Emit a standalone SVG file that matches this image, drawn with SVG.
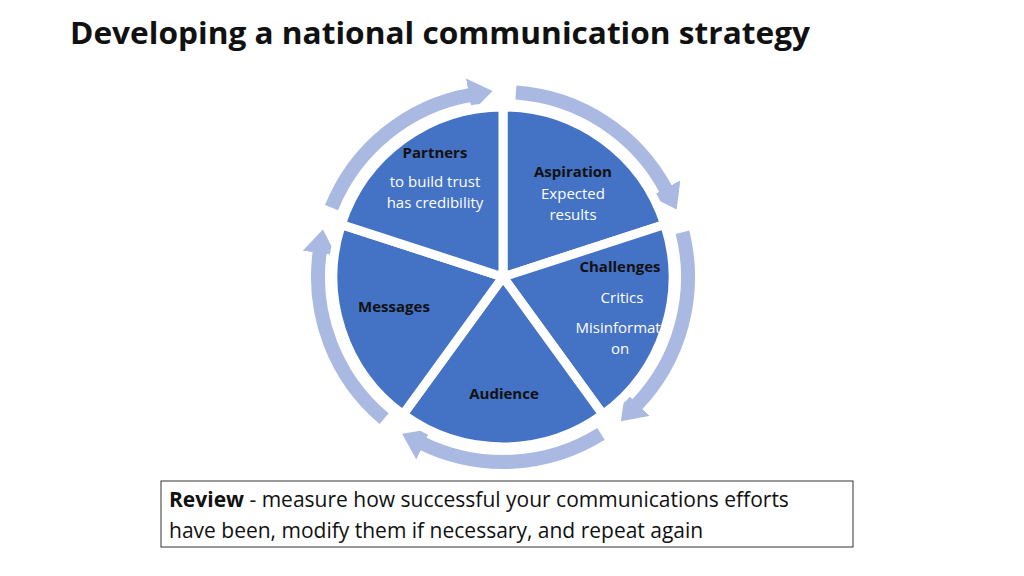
<svg xmlns="http://www.w3.org/2000/svg" width="1024" height="576" viewBox="0 0 1024 576">
<style>
.sec{fill:#4472C4;stroke:#fff;stroke-width:9;stroke-linejoin:miter}
.ring{fill:none;stroke:#A9B9E2;stroke-width:14}
.t{font-family:"Open Sans","Liberation Sans",sans-serif;text-anchor:middle;font-size:15px}
.b{font-weight:bold;fill:#111}
.w{fill:#fff}
</style>
<defs>
<marker id="ah" markerUnits="userSpaceOnUse" markerWidth="24" markerHeight="34" viewBox="0 -17 24 34" refX="2" refY="0" orient="auto">
<path d="M0,-17 L24,0 L0,17 z" fill="#A9B9E2"/>
</marker>
</defs>
<rect width="1024" height="576" fill="#fff"/>
<text x="70" y="44" font-family="'Open Sans','Liberation Sans',sans-serif" font-weight="bold" font-size="31" textLength="740" lengthAdjust="spacingAndGlyphs" fill="#111">Developing a national communication strategy</text>
<g id="connectors">
<path class="ring" marker-end="url(#ah)" d="M515.9,92.5 A185,185 0 0 1 666.3,190.1"/>
<path class="ring" marker-end="url(#ah)" d="M682.5,232.2 A185,185 0 0 1 636.1,405.5"/>
<path class="ring" marker-end="url(#ah)" d="M601.0,433.9 A185,185 0 0 1 421.9,443.3"/>
<path class="ring" marker-end="url(#ah)" d="M384.1,418.7 A185,185 0 0 1 319.8,251.2"/>
<path class="ring" marker-end="url(#ah)" d="M331.5,207.7 A185,185 0 0 1 470.9,94.8"/>
</g>
<g id="aspiration">
<path class="sec" d="M503,277 L503,107 A170,170 0 0 1 664.7,224.5 Z"/>
<text class="t b" x="573" y="177" font-size="17">Aspiration</text>
<text class="t w" x="573" y="199">Expected</text>
<text class="t w" x="573" y="220">results</text>
</g>
<g id="challenges">
<path class="sec" d="M503,277 L664.7,224.5 A170,170 0 0 1 602.9,414.5 Z"/>
<text class="t b" x="620" y="272" font-size="17">Challenges</text>
<text class="t w" x="622" y="303">Critics</text>
<text class="t w" x="620" y="333">Misinformati</text>
<text class="t w" x="620" y="354">on</text>
</g>
<g id="audience">
<path class="sec" d="M503,277 L602.9,414.5 A170,170 0 0 1 403.1,414.5 Z"/>
<text class="t b" x="504" y="399">Audience</text>
</g>
<g id="messages">
<path class="sec" d="M503,277 L403.1,414.5 A170,170 0 0 1 341.3,224.5 Z"/>
<text class="t b" x="394" y="312">Messages</text>
</g>
<g id="partners">
<path class="sec" d="M503,277 L341.3,224.5 A170,170 0 0 1 503,107 Z"/>
<text class="t b" x="435" y="158">Partners</text>
<text class="t w" x="435" y="187">to build trust</text>
<text class="t w" x="435" y="208">has credibility</text>
</g>
<g id="review">
<rect x="161" y="481" width="692" height="66" fill="#fff" stroke="#333" stroke-width="1"/>
<text x="169" y="507" font-family="'Open Sans','Liberation Sans',sans-serif" font-size="21" fill="#111"><tspan font-weight="bold">Review</tspan> - measure how successful your communications efforts</text>
<text x="169" y="538" font-family="'Open Sans','Liberation Sans',sans-serif" font-size="21" fill="#111">have been, modify them if necessary, and repeat again</text>
</g>
</svg>
